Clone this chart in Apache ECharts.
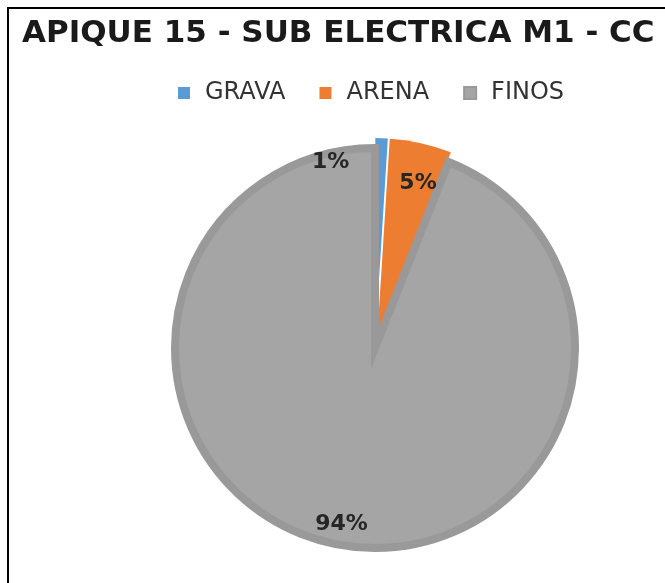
<!DOCTYPE html>
<html>
<head>
<meta charset="utf-8">
<script src="https://cdn.jsdelivr.net/npm/echarts@6/dist/echarts.min.js"></script>
<style>
  html, body { margin: 0; padding: 0; background: #fff; }
  #frame { position: absolute; left: 7px; top: 7px; width: 670px; height: 590px;
           border-top: 2px solid #000; border-left: 2px solid #000; box-sizing: border-box; }
  #chart { position: absolute; left: 0; top: 0; width: 665px; height: 583px; }
</style>
</head>
<body>
<div id="frame"></div>
<div id="chart"></div>
<script>
// ---- data ----
const titleText = 'APIQUE 15 - SUB ELECTRICA M1 - CC';
const categories = ['GRAVA', 'ARENA', 'FINOS'];
const values = [1, 5, 94];
const exploded = [true, true, false];

// ---- styles ----
const colors = ['#5B9BD5', '#ED7D31', '#A5A5A5'];
const borders = [null, null, '#999999'];
const labelPads = [[0, 100, 0, 0], [0, 0, 0, 8], [0, 0, 0, 0]];
const labelDy = [-7, 10, 0];

const chart = echarts.init(document.getElementById('chart'), null, { renderer: 'canvas' });

const mainData = categories.map((name, i) => {
  const st = { color: colors[i] };
  if (borders[i]) { st.borderColor = borders[i]; st.borderWidth = 8; st.borderJoin = 'miter'; st.borderMiterLimit = 10; }
  else { st.borderWidth = 0; }
  return { name, value: values[i], selected: exploded[i], itemStyle: st, select: { itemStyle: st } };
});

const labelData = categories.map((name, i) => ({
  name, value: values[i],
  label: { padding: labelPads[i] }
}));

chart.setOption({
  animation: false,
  backgroundColor: 'transparent',
  title: {
    text: titleText,
    left: 17, top: 13,
    textStyle: { fontFamily: 'DejaVu Sans', fontWeight: 'bold', fontSize: 31, color: '#1a1a1a' }
  },
  legend: {
    data: categories.map((n, i) => ({ name: n, itemStyle: { color: colors[i] } })),
    left: 173, top: 76,
    icon: 'rect', itemWidth: 12, itemHeight: 12, itemGap: 34,
    selectedMode: false,
    textStyle: { fontFamily: 'DejaVu Sans', fontSize: 24, color: '#333', padding: [0, 0, 0, 10] }
  },
  series: [
    {
      type: 'pie',
      center: [375, 348],
      radius: [0, 200],
      startAngle: 90,
      clockwise: true,
      selectedMode: 'multiple',
      selectedOffset: 10,
      label: { show: false },
      labelLine: { show: false },
      emphasis: { disabled: true },
      data: mainData
    },
    {
      type: 'pie',
      center: [375, 348],
      radius: [160, 192],
      startAngle: 90,
      clockwise: true,
      silent: true,
      itemStyle: { color: 'rgba(0,0,0,0)', borderWidth: 0 },
      label: {
        show: true, position: 'inside', formatter: '{d}%',
        fontFamily: 'DejaVu Sans', fontWeight: 'bold', fontSize: 22, color: '#262626'
      },
      labelLayout: (p) => ({ dy: labelDy[p.dataIndex] }),
      labelLine: { show: false },
      emphasis: { disabled: true },
      data: labelData
    }
  ]
});
</script>
</body>
</html>
